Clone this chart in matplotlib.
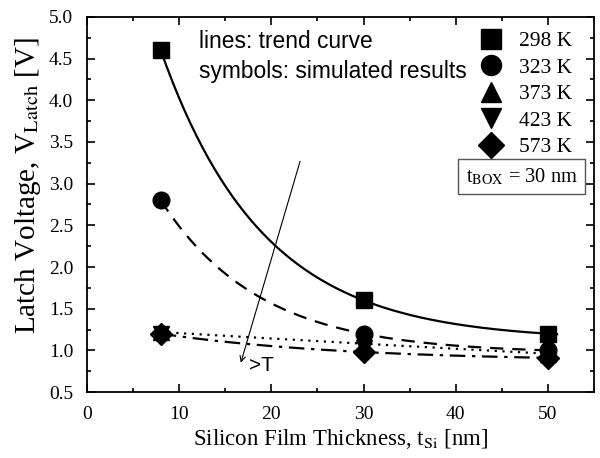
import matplotlib
matplotlib.use("Agg")
import matplotlib.pyplot as plt
import numpy as np
from matplotlib.ticker import MultipleLocator, FormatStrFormatter

plt.rcParams['font.family'] = ['Liberation Serif', 'DejaVu Serif']
plt.rcParams['mathtext.fontset'] = 'stix'

thickness = [8, 30, 50]
temps = ['298 K', '323 K', '373 K', '423 K', '573 K']
v298 = [4.6, 1.6, 1.2]
v323 = [2.8, 1.2, 1.0]
v373 = [1.22, 1.08, 0.96]
v423 = [1.2, 1.03, 0.95]
v573 = [1.2, 0.98, 0.91]

series = [v298, v323, v373, v423, v573]
markers = ['s', 'o', '^', 'v', 'D']
msizes = [12, 12, 12, 12, 11]
# 423 K has no trend line of its own in the original
styles = ['-', (0, (6, 4)), (0, (1, 2.5)), None, (0, (7, 3, 1.5, 3))]


def trend(x, y):
    # exponential decay y = c + a*exp(-k x) fitted to the points
    x = np.asarray(x, float)
    y = np.asarray(y, float)
    best = None
    for k in np.linspace(0.001, 0.5, 5000):
        e = np.exp(-k * x)
        A = np.vstack([e, np.ones_like(e)]).T
        coef, *_ = np.linalg.lstsq(A, y, rcond=None)
        err = np.sum((A @ coef - y) ** 2)
        if best is None or err < best[0]:
            best = (err, k, coef)
    _, k, (a, c) = best
    xs = np.linspace(x[0], x[-1] + 1, 200)
    return xs, c + a * np.exp(-k * xs)


fig = plt.figure(figsize=(6.0, 4.58), dpi=100)
ax = fig.add_axes([0.145, 0.144, 0.845, 0.819])

for i, ys in enumerate(series):
    if styles[i] is not None:
        xs, yt = trend(thickness, ys)
        ax.plot(xs, yt, color='black', lw=1.6, linestyle=styles[i])
    ax.plot(thickness, ys, linestyle='none', marker=markers[i],
            markersize=msizes[i], color='black', label=temps[i])

ax.set_xlim(0, 55)
ax.set_ylim(0.5, 5.0)
ax.set_xticks([0, 10, 20, 30, 40, 50])
ax.xaxis.set_minor_locator(MultipleLocator(5))
ax.yaxis.set_major_locator(MultipleLocator(0.5))
ax.yaxis.set_minor_locator(MultipleLocator(0.25))
ax.tick_params(which='both', direction='in', top=True, right=True,
               labelsize=14, width=1.2, pad=10)
ax.tick_params(which='major', length=6)
ax.tick_params(which='minor', length=3)
ax.yaxis.set_major_formatter(FormatStrFormatter('%.1f'))
for s in ax.spines.values():
    s.set_linewidth(1.3)

ax.set_xlabel(r'Silicon Film Thickness, t$_{\mathrm{Si}}$ [nm]', fontsize=16.5)
ax.set_ylabel(r'Latch Voltage, V$_{\mathrm{Latch}}$ [V]', fontsize=21)
ax.xaxis.set_label_coords(0.5, -0.092)
ax.yaxis.set_label_coords(-0.087, 0.552)

ax.text(12.2, 4.70, 'lines: trend curve', family='Liberation Sans',
        fontsize=16.4, va='center')
ax.text(12.2, 4.35, 'symbols: simulated results', family='Liberation Sans',
        fontsize=16.4, va='center')

ax.legend(loc='upper right', frameon=False, fontsize=15.5, markerscale=1.2,
          handlelength=1.0, handletextpad=0.8, labelspacing=0.3,
          borderpad=0, borderaxespad=0, bbox_to_anchor=(0.957, 0.962))

ax.text(53.2, 3.08, r't$_{\mathrm{BOX}}$ = 30 nm', fontsize=14.7, ha='right',
        va='center', bbox=dict(boxstyle='square,pad=0.35', fc='white',
                               ec='#555555', lw=1))

ax.annotate('', xy=(16.6, 0.82), xytext=(23.2, 3.3),
            arrowprops=dict(arrowstyle='->', color='black', lw=0.8))
ax.text(17.6, 0.82, '>T', family='Liberation Sans', fontsize=15, va='center')

fig.savefig('out.png', dpi=100)
